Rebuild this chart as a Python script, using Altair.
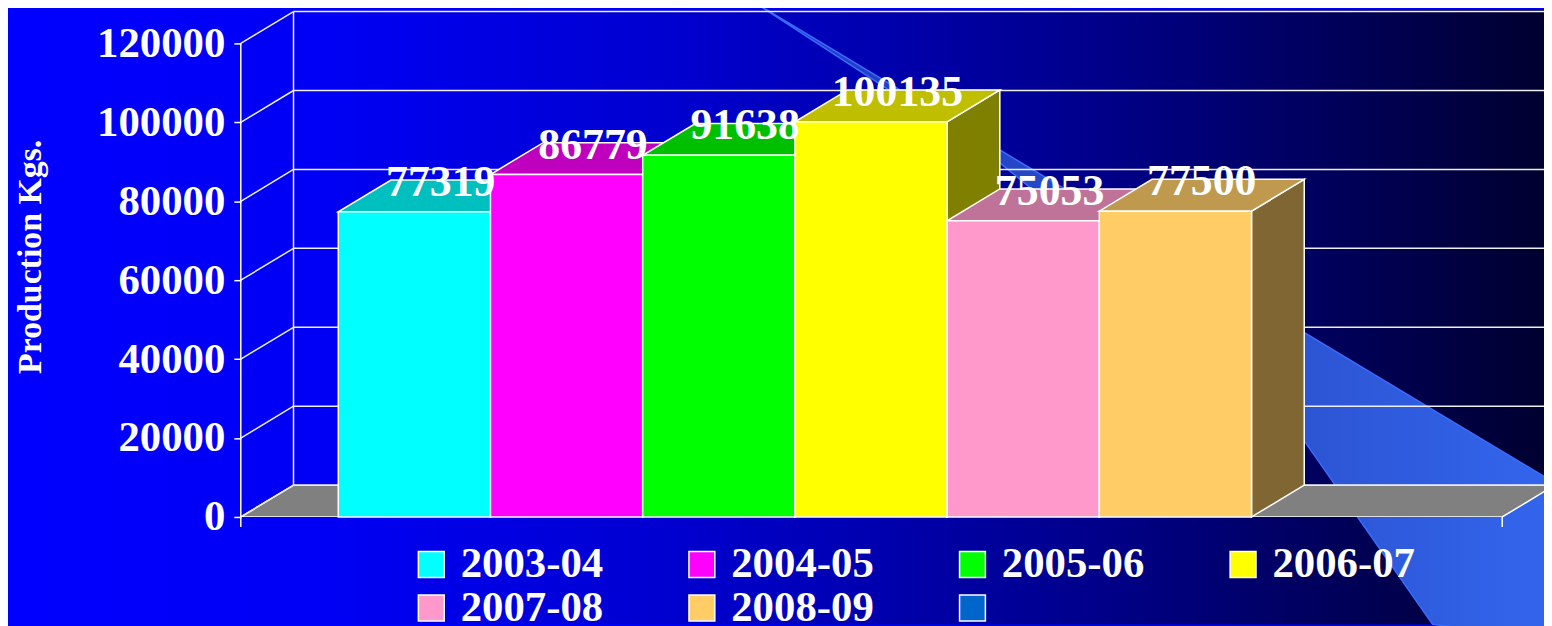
import altair as alt
import pandas as pd

# ---------------- data ----------------
seasons = ["2003-04", "2004-05", "2005-06", "2006-07", "2007-08", "2008-09"]
production = [77319, 86779, 91638, 100135, 75053, 77500]
front_colors = ["#00FFFF", "#FF00FF", "#00FF00", "#FFFF00", "#FF99CC", "#FFCC66"]
top_colors = ["#00BFBF", "#BF00BF", "#00BF00", "#BFBF00", "#BF7399", "#BF994D"]
side_colors = ["#008080", "#800080", "#008000", "#808000", "#804D66", "#806633"]
extra_legend_label = " "
extra_legend_color = "#0066CC"
y_ticks = [0, 20000, 40000, 60000, 80000, 100000, 120000]
y_title = "Production Kgs."

# ---------------- layout (pixels) ----------------
W, H = 1310, 508            # plot area
PAD = {"left": 234, "top": 2, "right": 0, "bottom": 108}
PPU = 476 / 120000          # pixels per value unit
Y_MAX = H / PPU
DX = 53                     # 3-D depth offset, px
DYV = 32 / PPU              # 3-D depth offset in value units
BAR_START = 98
BAR_W = 153
FLOOR_END = 1268
FONT = "Liberation Serif"

# decorative swoosh (reference pixel frame)
swoosh_x_px = [757, 1000, 1150, 1310, 1440, 1570]
swoosh_top_px = [0, 146, 236, 332, 410, 488]
swoosh_bottom_px = [0, 158, 280, 440, 626, 640]

xs = alt.Scale(domain=[0, W], nice=False, zero=False)
ys = alt.Scale(domain=[0, Y_MAX], nice=False, zero=False)

yaxis = alt.Axis(
    values=y_ticks, format="d", tickSize=7, tickWidth=1.5, tickColor="white",
    domain=False, grid=False, labelFont=FONT, labelFontSize=43,
    labelFontWeight="bold", labelColor="white", labelPadding=9,
    labelBaseline="middle", title=y_title, titleFont=FONT, titleFontSize=34,
    titleFontWeight="bold", titleColor="white", titleAngle=270, titleX=-211,
    titleY=246, titleAlign="center", titleBaseline="middle", zindex=1)

# ---------------- tables ----------------
bars = []
sides = []
tops = []
for i, (s, v) in enumerate(zip(seasons, production)):
    x0 = BAR_START + i * BAR_W
    x1 = x0 + BAR_W
    bars.append(dict(season=s, v=v, y0=0, x0=x0, x1=x1,
                     lx=(x0 + x1) / 2 + DX / 2, ly=v + DYV / 2))
    sides += [dict(id=i, x=x1, lo=0, hi=v, fill=side_colors[i]),
              dict(id=i, x=x1 + DX, lo=DYV, hi=v + DYV, fill=side_colors[i])]
    tops += [dict(id=i, x=x0, lo=v, hi=v, fill=top_colors[i]),
             dict(id=i, x=x0 + DX, lo=v, hi=v + DYV, fill=top_colors[i]),
             dict(id=i, x=x1, lo=v, hi=v + DYV, fill=top_colors[i]),
             dict(id=i, x=x1 + DX, lo=v + DYV, hi=v + DYV, fill=top_colors[i])]
bars = pd.DataFrame(bars)
sides = pd.DataFrame(sides)
tops = pd.DataFrame(tops)

floor = pd.DataFrame(dict(x=[0, DX, FLOOR_END, FLOOR_END + DX],
                          lo=[0, 0, 0, DYV], hi=[0, DYV, DYV, DYV]))
grid_h = pd.DataFrame(dict(x=DX, x2=W, y=[t + DYV for t in y_ticks]))
grid_d = pd.DataFrame(dict(x=0, x2=DX, y=y_ticks, y2=[t + DYV for t in y_ticks]))
back_v = pd.DataFrame(dict(x=[DX], y=[DYV], y2=[max(y_ticks) + DYV]))
front_v = pd.DataFrame(dict(x=[0], y=[0], y2=[max(y_ticks)]))
cat_ticks = pd.DataFrame(dict(x=[0, FLOOR_END], y=0, y2=-10 / PPU))
swoosh = pd.DataFrame(dict(
    x=[p - 242 for p in swoosh_x_px],
    hi=[(518 - p) / PPU for p in swoosh_top_px],
    lo=[(518 - p) / PPU for p in swoosh_bottom_px]))


def X(f):
    return alt.X(f, scale=xs, axis=None)


def Y(f):
    return alt.Y(f, scale=ys, axis=yaxis)


# ---------------- layers ----------------
bg_grad = alt.LinearGradient(
    gradient="linear", x1=0, x2=1, y1=0, y2=0,
    stops=[alt.GradientStop(offset=0, color="#0000FF"),
           alt.GradientStop(offset=0.2, color="#0000F6"),
           alt.GradientStop(offset=0.45, color="#0000CC"),
           alt.GradientStop(offset=0.71, color="#00008A"),
           alt.GradientStop(offset=1, color="#000030")])
bg = alt.Chart(alt.Data(values=[{"k": 0}])).mark_rect(fill=bg_grad).encode(
    x=alt.value(-PAD["left"]), x2=alt.value(W),
    y=alt.value(-PAD["top"]), y2=alt.value(H + PAD["bottom"]))

sw_grad = alt.LinearGradient(
    gradient="linear", x1=0, x2=1, y1=0, y2=0,
    stops=[alt.GradientStop(offset=0, color="#1E3CC0"),
           alt.GradientStop(offset=0.6, color="#2A50CC"),
           alt.GradientStop(offset=1, color="#3366EE")])
sw = alt.Chart(swoosh).mark_area(orient="vertical", fill=sw_grad, stroke="#3A6CFF",
                                  strokeWidth=1.5, opacity=1).encode(
    x=X("x:Q"), y=Y("lo:Q"), y2="hi:Q")

fl = alt.Chart(floor).mark_area(orient="vertical", fill="#808080", stroke="white",
                                 strokeWidth=1.5, opacity=1, clip=True).encode(
    x=X("x:Q"), y=Y("lo:Q"), y2="hi:Q")

gh = alt.Chart(grid_h).mark_rule(color="#EEEEEE", strokeWidth=1.5).encode(
    x=X("x:Q"), x2="x2:Q", y=Y("y:Q"))
gd = alt.Chart(grid_d).mark_rule(color="#EEEEEE", strokeWidth=1.5).encode(
    x=X("x:Q"), x2="x2:Q", y=Y("y:Q"), y2="y2:Q")
bv = alt.Chart(back_v).mark_rule(color="#EEEEEE", strokeWidth=1.5).encode(
    x=X("x:Q"), y=Y("y:Q"), y2="y2:Q")
fv = alt.Chart(front_v).mark_rule(color="white", strokeWidth=1.5).encode(
    x=X("x:Q"), y=Y("y:Q"), y2="y2:Q")
ct = alt.Chart(cat_ticks).mark_rule(color="white", strokeWidth=1.5).encode(
    x=X("x:Q"), y=Y("y:Q"), y2="y2:Q")

sd = alt.Chart(sides).mark_area(orient="vertical", stroke="white", strokeWidth=1.5,
                                 opacity=1).encode(
    x=X("x:Q"), y=Y("lo:Q"), y2="hi:Q",
    fill=alt.Fill("fill:N", scale=None), detail="id:N")
tp = alt.Chart(tops).mark_area(orient="vertical", stroke="white", strokeWidth=1.5,
                                opacity=1).encode(
    x=X("x:Q"), y=Y("lo:Q"), y2="hi:Q",
    fill=alt.Fill("fill:N", scale=None), detail="id:N")

legend = alt.Legend(
    title=None, orient="none", legendX=170, legendY=534, columns=4,
    direction="horizontal",
    symbolType="square", symbolSize=676, symbolStrokeColor="white",
    symbolStrokeWidth=1.5, symbolOpacity=1, labelFont=FONT, labelFontSize=43,
    labelFontWeight="bold", labelColor="white", labelOffset=8, labelLimit=0,
    columnPadding=77, rowPadding=-3, padding=0, zindex=1)

fr = alt.Chart(bars).mark_rect(stroke="white", strokeWidth=1.5, opacity=1).encode(
    x=X("x0:Q"), x2="x1:Q", y=Y("y0:Q"), y2="v:Q",
    color=alt.Color("season:N",
                    scale=alt.Scale(domain=seasons + [extra_legend_label],
                                    range=front_colors + [extra_legend_color]),
                    legend=legend))

lbl = alt.Chart(bars).mark_text(font=FONT, fontSize=44, fontWeight="bold",
                                color="white", align="center",
                                baseline="alphabetic").encode(
    x=X("lx:Q"), y=Y("ly:Q"), text=alt.Text("v:Q", format="d"))

chart = alt.layer(bg, sw, fl, gh, gd, bv, fv, ct, sd, tp, fr, lbl).properties(
    width=W, height=H, padding=PAD,
    autosize=alt.AutoSizeParams(type="none"),
    background="#0000FF",
).configure_view(stroke=None)

chart.save("out.html", embed_options={"renderer": "svg", "actions": False})
